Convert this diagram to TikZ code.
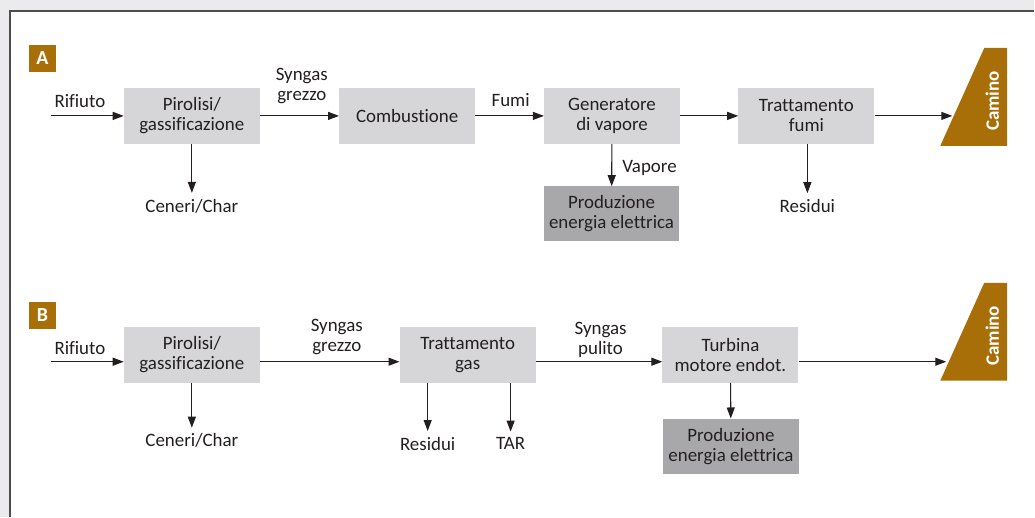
\documentclass[tikz,border=0pt]{standalone}
\usepackage{fontspec}
\setmainfont{Carlito}[Ligatures={NoCommon}]
\usetikzlibrary{arrows.meta}

\definecolor{ocra}{HTML}{A86F08}
\definecolor{boxgray}{HTML}{D6D6D8}
\definecolor{boxdark}{HTML}{A8A8AA}
\definecolor{bggray}{HTML}{EBEBED}
\definecolor{ink}{HTML}{231F20}

\begin{document}
\begin{tikzpicture}[x=1bp,y=-1bp,
  every node/.style={font=\fontsize{19}{20}\selectfont, text=ink, align=center, inner sep=0pt},
  fase/.style={fill=boxgray, minimum width=136bp, minimum height=56bp},
  uscita/.style={fill=boxdark, minimum width=136bp, minimum height=55bp},
  esito/.style={outer sep=6bp},
  lettera/.style={fill=ocra, text=white, minimum size=27bp, font=\fontsize{20}{20}\selectfont\bfseries},
  camino/.style={fill=ocra},
  freccia/.style={draw=ink, line width=1.1bp, -{Triangle[length=11bp,width=8bp]}}]

             % cornice
             \fill[bggray] (0,0) rectangle (1035,517);
             \fill[white] (10,11) rectangle (1035,517);
             \draw[line width=1.6bp, ink!80] (10,517) -- (10,11) -- (1035,11);

             % schema A
             \node[lettera] (letA) at (42.5,58.5) {A};
             \node (rifA) at (80,101) {Rifiuto};
             \coordinate (inA) at (51,116);
             \node[fase] (pirA) at (192,116) {Pirolisi/\\gassificazione};
             \node[fase] (comb) at (407.5,116) {Combustione};
             \node[fase] (gen) at (612.5,116) {Generatore\\di vapore};
             \node[fase] (trf) at (807,116) {Trattamento\\fumi};
             \node[uscita] (prodA) at (612,214) {Produzione\\energia elettrica};
             \node (synA) at (302,86) {Syngas\\grezzo};
             \node (fumi) at (511,100) {Fumi};
             \node (vap) at (650,168) {Vapore};
             \node[esito] (cenA) at (192,206) {Ceneri/Char};
             \node[esito] (resA) at (808,206) {Residui};

             \fill[camino] (941,146) -- (985,48) -- (1008,48) -- (1008,146) -- cycle;
             \node[rotate=90, text=white, font=\fontsize{19}{20}\selectfont\bfseries] (camA) at (993,101) {Camino};
             \coordinate (tipA) at (953,116);

             \draw[freccia] (inA) -- (pirA);
             \draw[freccia] (pirA) -- (comb);
             \draw[freccia] (comb) -- (gen);
             \draw[freccia] (gen) -- (trf);
             \draw[freccia] (trf) -- (tipA);
             \draw[freccia] (pirA) -- (cenA);
             \draw[freccia] (gen) -- (prodA);
             \draw[freccia] (resA |- trf.south) -- (resA);

             % schema B
             \node[lettera] (letB) at (42.5,315.5) {B};
             \node (rifB) at (80,348) {Rifiuto};
             \coordinate (inB) at (51,362);
             \node[fase] (pirB) at (192,355) {Pirolisi/\\gassificazione};
             \node[fase] (trg) at (468,355) {Trattamento\\gas};
             \node[fase] (turb) at (731,355) {Turbina\\motore endot.};
             \node[uscita] (prodB) at (731.5,446.5) {Produzione\\energia elettrica};
             \node (synB) at (337,337) {Syngas\\grezzo};
             \node (synC) at (601,340) {Syngas\\pulito};
             \node[esito] (cenB) at (192,441) {Ceneri/Char};
             \node[esito] (resB) at (428,444) {Residui};
             \node[esito] (tar) at (511,444) {TAR};

             \fill[camino] (941,381) -- (985,283) -- (1008,283) -- (1008,381) -- cycle;
             \node[rotate=90, text=white, font=\fontsize{19}{20}\selectfont\bfseries] (camB) at (993,336) {Camino};
             \coordinate (tipB) at (947,362);

             \draw[freccia] (inB) -- (inB -| pirB.west);
             \draw[freccia] (pirB.east |- tipB) -- (trg.west |- tipB);
             \draw[freccia] (trg.east |- tipB) -- (turb.west |- tipB);
             \draw[freccia] (turb.east |- tipB) -- (tipB);
             \draw[freccia] (pirB) -- (cenB);
             \draw[freccia] (resB |- trg.south) -- (resB);
             \draw[freccia] (tar |- trg.south) -- (tar);
             \draw[freccia] (turb) -- (prodB);
\end{tikzpicture}
\end{document}
